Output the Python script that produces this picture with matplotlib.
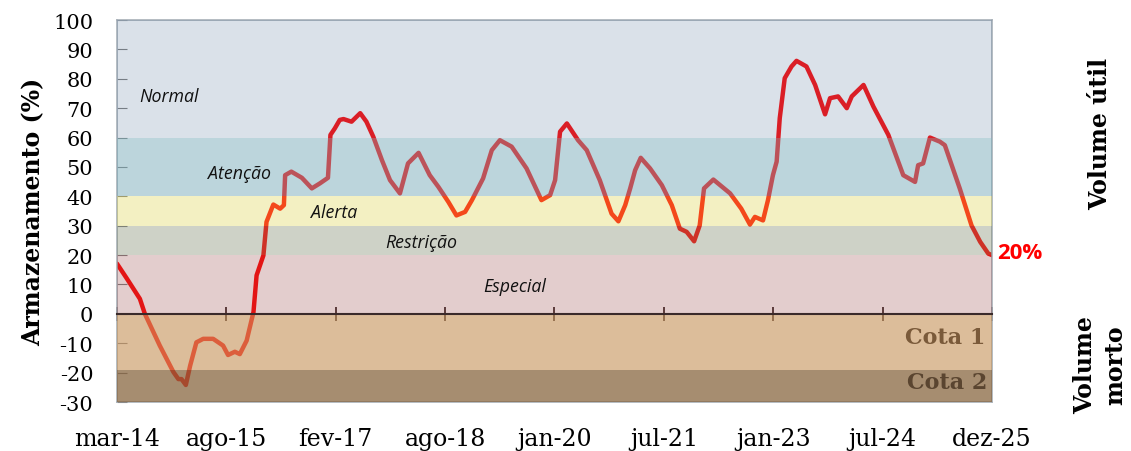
import matplotlib.pyplot as plt

plt.rcParams['axes.unicode_minus'] = False

# months since mar-14 and storage (%)
meses = [0, 1.6, 3.7, 4.5, 6.9, 9.1, 9.9, 10.4, 11.1, 11.8, 12.8, 13.9, 15.5, 17.1, 17.9,
         19.0, 19.8, 20.9, 22.0, 22.5, 23.6, 24.1, 25.2, 26.3, 26.9, 27.1, 28.1, 29.8, 31.4,
         32.7, 34.0, 34.4, 35.1, 35.9, 36.5, 37.8, 39.2, 40.2, 41.3, 42.7, 44.0, 45.6, 46.9,
         48.6, 50.4, 51.8, 53.4, 54.7, 56.1, 57.2, 59.0, 60.4, 61.7, 63.6, 66.0, 68.4, 69.8,
         70.6, 71.4, 72.5, 74.3, 75.7, 77.8, 79.7, 80.8, 81.9, 82.7, 83.5, 84.4, 85.9, 87.8,
         89.4, 90.7, 91.8, 93.0, 93.9, 94.6, 96.1, 98.8, 100.6, 102.0, 102.8, 104.1, 104.9,
         105.7, 106.3, 106.8, 107.6, 108.7, 109.5, 111.1, 112.5, 114.1, 114.9, 116.2, 117.6,
         118.4, 120.3, 121.9, 124.3, 126.7, 128.6, 129.1, 129.9, 131.0, 132.6, 133.4, 135.8,
         137.7, 139.1, 140.4, 141.0]
armazenamento = [17.1, 12, 5.1, 0, -10.8, -19.8, -22.2, -22.2, -24.2, -17.6, -9.7, -8.5, -8.5,
                 -10.8, -14.0, -12.9, -13.7, -9.1, 0.6, 13.1, 19.9, 31.3, 37.2, 35.8, 37, 47.2,
                 48.4, 46.3, 42.7, 44.4, 46.3, 60.9, 63.1, 66, 66.3, 65.4, 68.3, 65.4, 60.3, 52.3,
                 45.5, 41, 51.2, 54.8, 47.2, 43.2, 38.1, 33.5, 34.7, 38.7, 46.1, 55.7, 59.1, 56.9,
                 49.5, 38.7, 40.4, 45.5, 62, 64.8, 59.1, 55.7, 45.5, 34.1, 31.5, 37, 42.7, 48.9,
                 53.1, 49.5, 43.8, 37, 29, 27.9, 24.7, 30.1, 42.7, 45.7, 41, 35.8, 30.4, 33, 31.8,
                 38.7, 47.2, 51.8, 66.6, 80.2, 84.2, 86.1, 84.2, 77.9, 67.9, 73.4, 74, 70, 74,
                 77.9, 70.5, 60.9, 47.2, 44.9, 50.6, 51.2, 60, 58.6, 57.4, 42.7, 30.1, 24.5,
                 20.5, 20.0]

rotulos_x = ['mar-14', 'ago-15', 'fev-17', 'ago-18', 'jan-20', 'jul-21', 'jan-23', 'jul-24', 'dez-25']
total_meses = 141

# faixas: (inferior, superior, cor, alpha)
faixas = [
    (60, 100, '#08376c', 0.15),
    (40, 60, '#649eae', 0.43),
    (30, 40, '#d4ca20', 0.27),
    (20, 30, '#5f6c48', 0.30),
    (0, 20, '#730505', 0.20),
    (-19, 0, '#c48f54', 0.59),
    (-30, -19, '#825e36', 0.71),
]

fig = plt.figure(figsize=(11.31, 4.52), dpi=100)
ax = fig.add_axes([0.1034, 0.1084, 0.7737, 0.8451])

ax.plot(meses, armazenamento, color='#ff1a1a', lw=3.2, zorder=2, solid_capstyle='round')
for lo, hi, cor, a in faixas:
    ax.axhspan(lo, hi, color=cor, alpha=a, lw=0, zorder=3)

# rotulos das faixas
italico = dict(style='italic', family='Open Sans', fontsize=12.8, color='#111111', zorder=5,
               ha='center', va='center')
ax.text(8.4, 74, 'Normal', **italico)
ax.text(19.8, 47.8, 'Atenção', **italico)
ax.text(35, 34.8, 'Alerta', **italico)
ax.text(49.1, 24.6, 'Restrição', **italico)
ax.text(64.1, 9.6, 'Especial', **italico)
ax.text(139.9, -7.8, 'Cota 1', family='DejaVu Serif', fontweight='bold', fontsize=16,
        color='#7a5a3a', ha='right', va='center', zorder=5)
ax.text(140.3, -23.2, 'Cota 2', family='DejaVu Serif', fontweight='bold', fontsize=16,
        color='#5a4530', ha='right', va='center', zorder=5)

ax.annotate(f'{armazenamento[-1]:.0f}%', (meses[-1], armazenamento[-1]), xytext=(4, 2),
            textcoords='offset points', va='center', ha='left', color='#ff0000',
            fontsize=16, fontweight='bold', family='Open Sans', annotation_clip=False)

ax.set_xlim(0, total_meses)
ax.set_ylim(-30, 100)
ax.set_yticks(range(-30, 101, 10))
ax.tick_params(axis='y', direction='in', length=7, color='#8a8a8a', labelsize=15, pad=17)
for t in ax.get_yticklabels():
    t.set_family('DejaVu Serif')

pos_x = [i * total_meses / 8 for i in range(9)]
ax.spines['bottom'].set_position(('data', 0))
ax.spines['bottom'].set_color('#3a2a2a')
ax.spines['bottom'].set_linewidth(1.5)
ax.spines['bottom'].set_zorder(6)
ax.set_xticks(pos_x)
ax.tick_params(axis='x', direction='inout', length=10, width=1.2, color='#3a2a2a', labelbottom=False)
for s in ['left', 'top', 'right']:
    ax.spines[s].set_color('#a8b0b8')
    ax.spines[s].set_linewidth(1.2)

sec = ax.secondary_xaxis('bottom')
sec.set_xticks(pos_x, rotulos_x)
sec.tick_params(length=0, pad=18, labelsize=17)
sec.spines['bottom'].set_color('#a8b0b8')
sec.spines['bottom'].set_linewidth(1.2)
for t in sec.get_xticklabels():
    t.set_family('DejaVu Serif')

ax.set_ylabel('Armazenamento (%)', family='DejaVu Serif', fontweight='bold', fontsize=17, labelpad=6)

fig.text(0.9726, 0.704, 'Volume útil', rotation=90, family='DejaVu Serif', fontweight='bold',
         fontsize=17, ha='center', va='center')
fig.text(0.9726, 0.192, 'Volume\nmorto', rotation=90, family='DejaVu Serif', fontweight='bold',
         fontsize=17, ha='center', va='center', linespacing=1.35)

fig.savefig('out.png', dpi=100)
